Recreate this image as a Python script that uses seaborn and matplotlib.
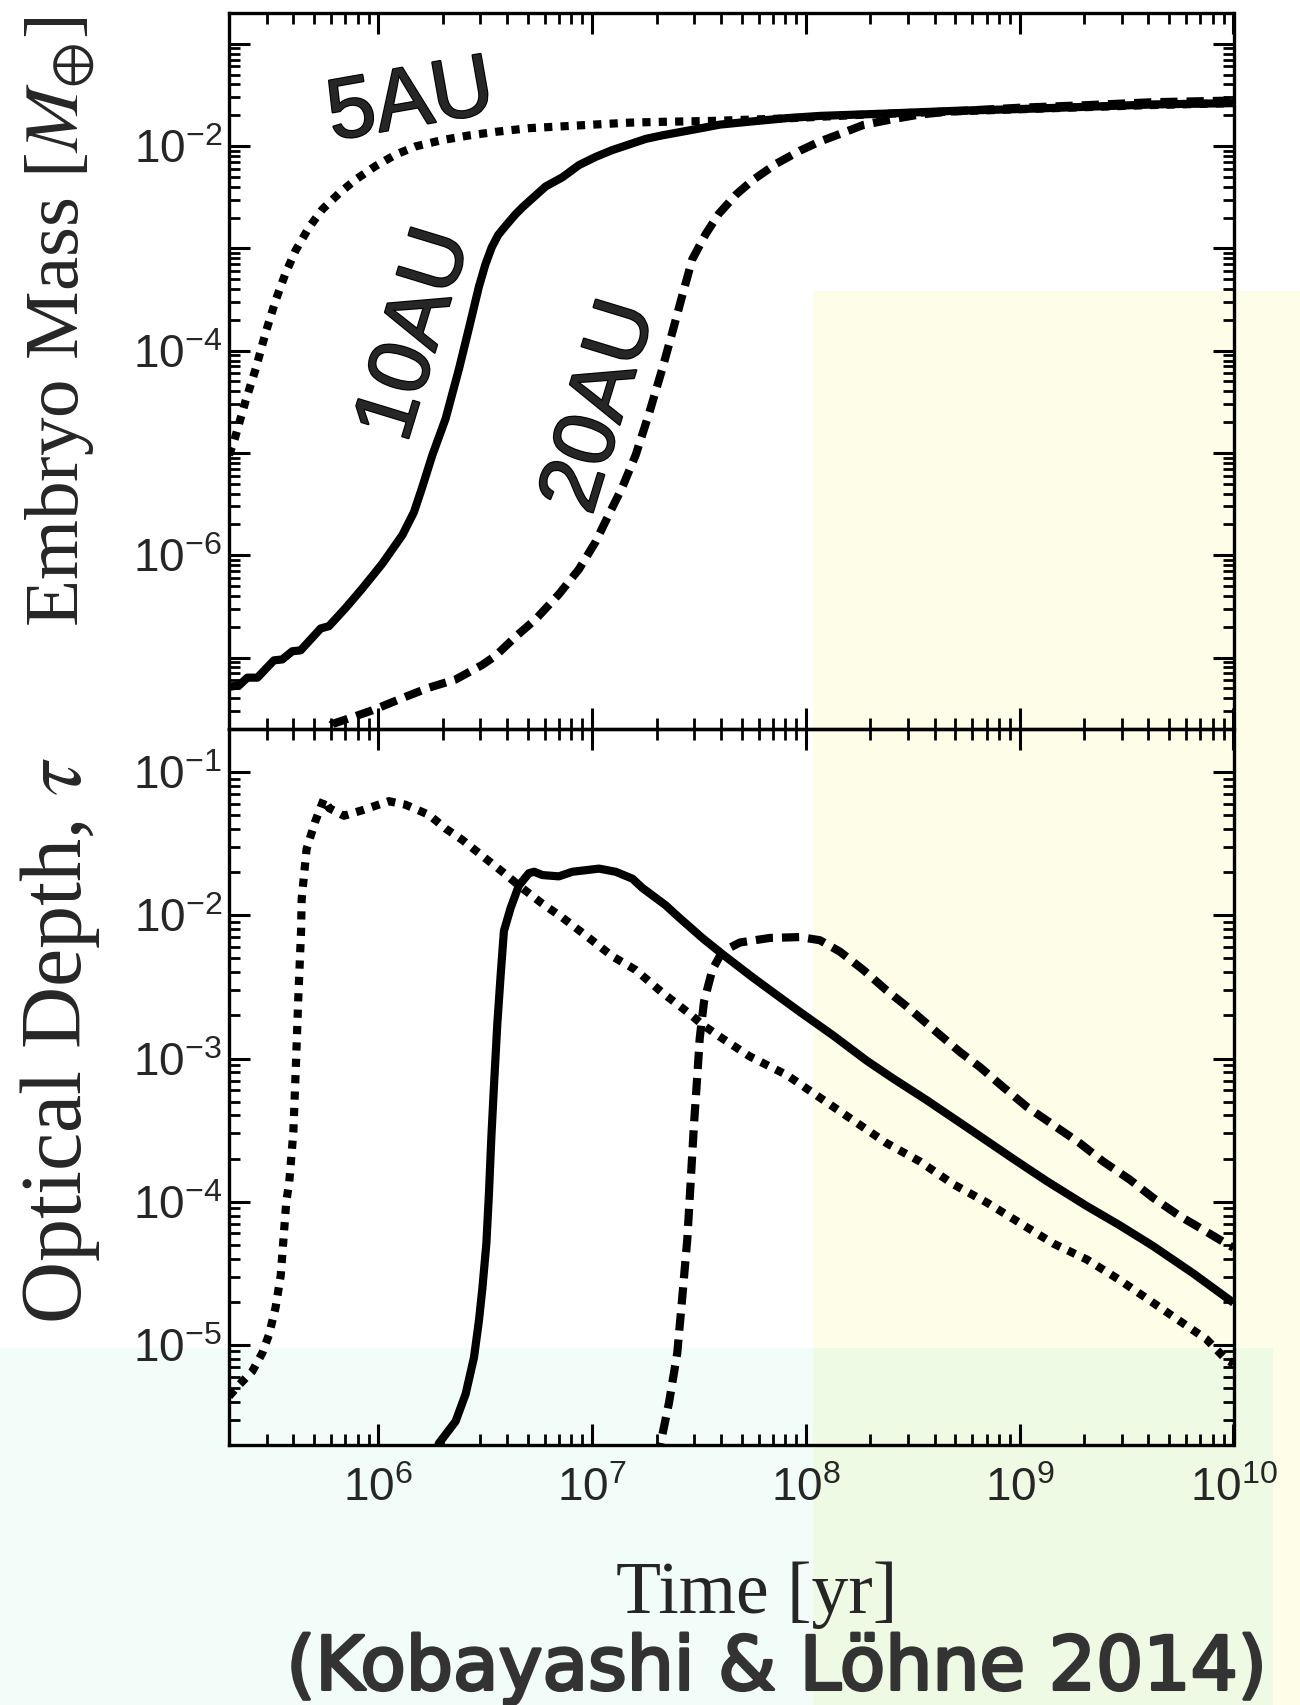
import numpy as np
import matplotlib
matplotlib.use("Agg")
import matplotlib.pyplot as plt
import matplotlib.patheffects as pe
from matplotlib.patches import Rectangle
from matplotlib.ticker import LogLocator, FuncFormatter, NullFormatter
import seaborn as sns

# ---------------------------------------------------------------
# Curves, stored as log10(time / yr) and log10(value)
# ---------------------------------------------------------------
# Embryo mass [M_earth]
mass_5au_logt = [5.301, 5.324, 5.379, 5.426, 5.473, 5.519, 5.566, 5.613, 5.675, 5.738,
                 5.816, 5.893, 5.987, 6.081, 6.174, 6.299, 6.424, 6.548, 6.704, 6.860,
                 7.016, 7.172, 7.328, 7.562, 7.900, 8.300, 8.700, 9.000, 9.300, 9.600, 10.0]
mass_5au_logm = [-5.02, -4.890, -4.489, -4.177, -3.820, -3.509, -3.241, -3.019, -2.796, -2.618,
                 -2.462, -2.328, -2.195, -2.083, -2.003, -1.941, -1.896, -1.861, -1.825, -1.807,
                 -1.789, -1.771, -1.763, -1.754, -1.730, -1.690, -1.660, -1.640, -1.620, -1.600, -1.580]

mass_10au_logt = [5.301, 5.348, 5.387, 5.434, 5.511, 5.550, 5.597, 5.636, 5.730, 5.769,
                  5.847, 5.925, 6.018, 6.112, 6.166, 6.205, 6.252, 6.314, 6.377, 6.424,
                  6.470, 6.500, 6.530, 6.560, 6.595, 6.640, 6.673, 6.782, 6.860, 6.938,
                  7.016, 7.094, 7.172, 7.250, 7.328, 7.484, 7.598, 7.753, 7.909, 8.065,
                  8.377, 8.689, 9.001, 9.313, 9.624, 10.0]
mass_10au_logm = [-7.286, -7.273, -7.197, -7.197, -7.028, -7.019, -6.939, -6.930, -6.716, -6.693,
                  -6.515, -6.324, -6.083, -5.803, -5.580, -5.335, -5.023, -4.667, -4.177, -3.776,
                  -3.375, -3.160, -2.990, -2.870, -2.780, -2.670, -2.600, -2.395, -2.306, -2.186,
                  -2.106, -2.039, -1.985, -1.930, -1.895, -1.835, -1.790, -1.758, -1.727, -1.705,
                  -1.682, -1.656, -1.638, -1.616, -1.593, -1.580]

mass_20au_logt = [5.700, 5.784, 5.878, 5.971, 6.127, 6.236, 6.361, 6.486, 6.548, 6.642,
                  6.735, 6.844, 6.938, 7.016, 7.078, 7.141, 7.203, 7.265, 7.328, 7.375,
                  7.421, 7.468, 7.531, 7.593, 7.675, 7.753, 7.863, 7.972, 8.065, 8.174,
                  8.268, 8.408, 8.533, 8.689, 9.001, 9.313, 9.624, 10.0]
mass_20au_logm = [-7.850, -7.651, -7.584, -7.517, -7.384, -7.295, -7.215, -7.072, -6.983, -6.796,
                  -6.627, -6.382, -6.137, -5.869, -5.602, -5.335, -5.023, -4.622, -4.177, -3.820,
                  -3.464, -3.108, -2.860, -2.660, -2.470, -2.330, -2.170, -2.045, -1.955, -1.870,
                  -1.794, -1.736, -1.691, -1.660, -1.625, -1.600, -1.571, -1.555]

# Optical depth tau
tau_5au_logt = [5.301, 5.348, 5.410, 5.457, 5.488, 5.519, 5.543, 5.569, 5.583, 5.602,
                5.614, 5.625, 5.638, 5.641, 5.664, 5.703, 5.745, 5.769, 5.839, 5.925,
                6.049, 6.127, 6.236, 6.314, 6.392, 6.486, 6.580, 6.657, 6.767, 6.860,
                6.985, 7.094, 7.203, 7.328, 7.453, 7.515, 7.608, 7.738, 7.909, 8.065,
                8.221, 8.377, 8.533, 8.689, 8.845, 9.001, 9.157, 9.313, 9.468, 9.624,
                9.780, 9.874, 9.967, 10.0]
tau_5au_logtau = [-5.359, -5.279, -5.184, -5.056, -4.929, -4.738, -4.515, -4.000, -3.862, -3.513,
                  -3.048, -2.583, -2.116, -1.886, -1.537, -1.350, -1.187, -1.251, -1.305, -1.266,
                  -1.203, -1.228, -1.298, -1.394, -1.473, -1.585, -1.696, -1.792, -1.919, -2.015,
                  -2.158, -2.286, -2.381, -2.540, -2.684, -2.763, -2.859, -2.986, -3.114, -3.273,
                  -3.432, -3.591, -3.719, -3.878, -4.005, -4.149, -4.292, -4.403, -4.547, -4.706,
                  -4.865, -4.961, -5.104, -5.130]

tau_10au_logt = [6.260, 6.283, 6.361, 6.408, 6.447, 6.470, 6.486, 6.505, 6.517, 6.528,
                 6.541, 6.556, 6.572, 6.587, 6.618, 6.657, 6.704, 6.728, 6.767, 6.844,
                 6.907, 7.032, 7.110, 7.188, 7.234, 7.343, 7.406, 7.515, 7.608, 7.753,
                 7.847, 7.972, 8.128, 8.284, 8.408, 8.564, 8.782, 8.969, 9.125, 9.313,
                 9.468, 9.624, 9.811, 10.0]
tau_10au_logtau = [-5.800, -5.687, -5.534, -5.343, -5.088, -4.833, -4.610, -4.292, -3.942, -3.559,
                   -3.177, -2.763, -2.413, -2.110, -1.951, -1.792, -1.706, -1.696, -1.719, -1.728,
                   -1.696, -1.674, -1.696, -1.744, -1.808, -1.929, -2.015, -2.158, -2.270, -2.436,
                   -2.539, -2.675, -2.840, -3.015, -3.140, -3.290, -3.510, -3.700, -3.855, -4.030,
                   -4.165, -4.310, -4.500, -4.706]

tau_20au_logt = [7.300, 7.320, 7.359, 7.398, 7.421, 7.445, 7.460, 7.476, 7.492, 7.503,
                 7.523, 7.562, 7.608, 7.691, 7.831, 7.972, 8.065, 8.159, 8.268, 8.377,
                 8.471, 8.595, 8.720, 8.814, 8.923, 9.032, 9.157, 9.281, 9.390, 9.515,
                 9.624, 9.749, 9.858, 9.983, 10.0]
tau_20au_logtau = [-5.800, -5.687, -5.406, -5.056, -4.674, -4.260, -3.878, -3.464, -3.114, -2.859,
                   -2.604, -2.381, -2.254, -2.190, -2.158, -2.152, -2.174, -2.254, -2.381, -2.524,
                   -2.636, -2.795, -2.954, -3.060, -3.200, -3.336, -3.464, -3.591, -3.719, -3.846,
                   -3.973, -4.101, -4.196, -4.308, -4.320]

curve_labels = ["5AU", "10AU", "20AU"]
x_limits = (2e5, 1e10)
mass_limits = (2e-8, 0.2)
tau_limits = (2e-6, 0.2)
citation = "(Kobayashi & Löhne 2014)"

# ---------------------------------------------------------------
sns.set_style("ticks")
plt.rcParams.update({
    "font.family": ["Liberation Sans", "DejaVu Sans"],
    "mathtext.fontset": "stix",
    "axes.linewidth": 2.4,
    "lines.solid_capstyle": "butt",
})

W, H = 1300, 1705
fig = plt.figure(figsize=(W / 100, H / 100), dpi=100)


def fx(px):
    return px / W


def fy(py):
    return 1 - py / H


# pale highlight boxes laid behind the panels
boxes = [(813, 291, 1300, 1705, "#FEFEE8"),
         (0, 1348, 1273, 1705, "#F2FCF8"),
         (813, 1348, 1273, 1705, "#EFFAE4")]
for x0, y0, x1, y1, col in boxes:
    fig.add_artist(Rectangle((fx(x0), fy(y1)), fx(x1) - fx(x0), fy(y0) - fy(y1),
                             transform=fig.transFigure, facecolor=col,
                             edgecolor="none", zorder=-5))

left, right = 229, 1233.5
ax_m = fig.add_axes([fx(left), fy(729), fx(right) - fx(left), fy(13) - fy(729)])
ax_t = fig.add_axes([fx(left), fy(1445), fx(right) - fx(left), fy(729) - fy(1445)],
                    sharex=ax_m)

LW = 5.9
line_styles = {"5AU": (0, (1, 1)), "10AU": "-", "20AU": (0, (2.1, 1.1))}

for ax in (ax_m, ax_t):
    ax.set_facecolor("none")
    ax.set_xscale("log")
    ax.set_yscale("log")


def draw(ax, logt, logv, name):
    sns.lineplot(x=np.power(10.0, logt), y=np.power(10.0, logv), ax=ax,
                 color="black", linewidth=LW, linestyle=line_styles[name],
                 sort=False, estimator=None, legend=False)


draw(ax_m, mass_5au_logt, mass_5au_logm, "5AU")
draw(ax_m, mass_10au_logt, mass_10au_logm, "10AU")
draw(ax_m, mass_20au_logt, mass_20au_logm, "20AU")
draw(ax_t, tau_5au_logt, tau_5au_logtau, "5AU")
draw(ax_t, tau_10au_logt, tau_10au_logtau, "10AU")
draw(ax_t, tau_20au_logt, tau_20au_logtau, "20AU")

ax_m.set_xlim(*x_limits)
ax_m.set_ylim(*mass_limits)
ax_t.set_ylim(*tau_limits)


def make_formatter(lo, hi, every=1):
    """Power-of-ten labels, only for ticks inside [lo, hi] and every n-th decade."""
    def fmt(v, pos):
        if v < lo * 0.999 or v > hi * 1.001:
            return ""
        e = int(round(np.log10(v)))
        if e % every:
            return ""
        return r"$\mathdefault{10^{%d}}$" % e
    return FuncFormatter(fmt)


for ax in (ax_m, ax_t):
    for axis in (ax.xaxis, ax.yaxis):
        axis.set_major_locator(LogLocator(base=10, numticks=40))
        axis.set_minor_locator(LogLocator(base=10, subs=np.arange(2, 10), numticks=40))
        axis.set_minor_formatter(NullFormatter())
    ax.tick_params(which="both", direction="in", top=True, right=True,
                   labelsize=33, color="black")
    ax.tick_params(which="major", length=15, width=2.2)
    ax.tick_params(which="minor", length=8, width=2.0)
    ax.tick_params(axis="y", which="both", pad=5)
    ax.tick_params(axis="x", which="both", pad=16)
    for s in ax.spines.values():
        s.set_linewidth(2.4)
        s.set_color("black")
    ax.set_xlabel("")
    ax.set_ylabel("")

ax_t.xaxis.set_major_formatter(make_formatter(*x_limits))
ax_t.yaxis.set_major_formatter(make_formatter(*tau_limits))
ax_m.yaxis.set_major_formatter(make_formatter(*mass_limits, every=2))
ax_m.tick_params(labelbottom=False)

# axis titles
serif = "Liberation Serif"
fig.text(fx(60), fy(322), r"Embryo Mass [$M_{\oplus}$]", rotation=90,
         ha="center", va="center", fontsize=55.5, family=serif)
fig.text(fx(60), fy(1040), r"Optical Depth, $\tau$", rotation=90,
         ha="center", va="center", fontsize=62, family=serif)
fig.text(fx(757), fy(1595), "Time [yr]", ha="center", va="center",
         fontsize=53, family=serif)

# curve names
heavy = [pe.withStroke(linewidth=1.6, foreground="black")]
label_pos = {"5AU": (411, 104, 10), "10AU": (417, 335, 73), "20AU": (602, 407, 73)}
for name in curve_labels:
    px, py, rot = label_pos[name]
    fig.text(fx(px), fy(py), name, rotation=rot, rotation_mode="anchor",
             ha="center", va="center", fontsize=62, path_effects=heavy)

fig.text(fx(776), fy(1669), citation, ha="center", va="center",
         fontsize=53.5, color="#333333", family="DejaVu Sans",
         path_effects=[pe.withStroke(linewidth=2.2, foreground="#333333")])

fig.savefig("out.png", dpi=100)
